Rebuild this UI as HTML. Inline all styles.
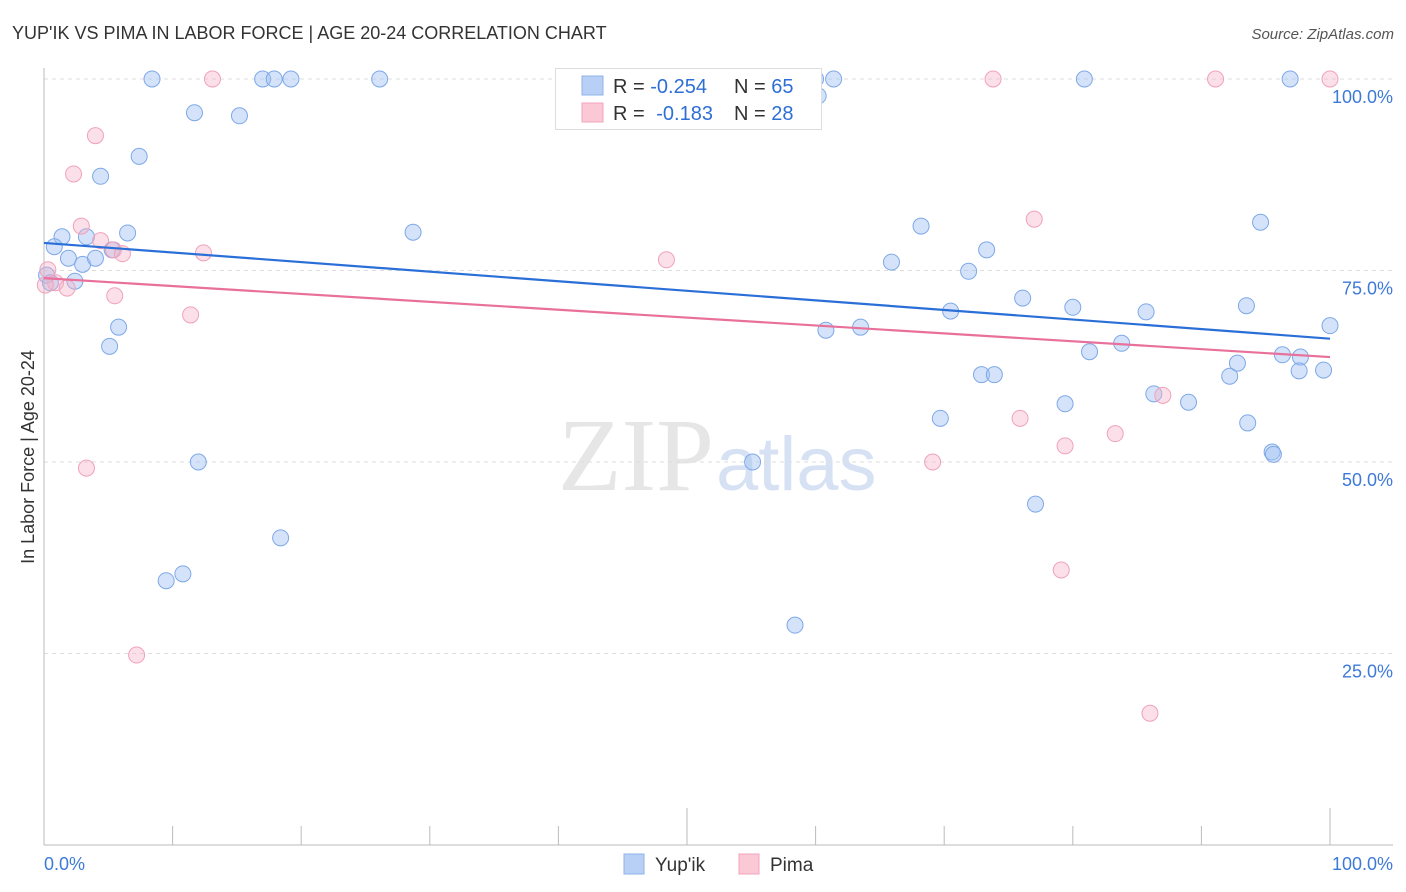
<!DOCTYPE html>
<html><head><meta charset="utf-8"><style>
body{margin:0;background:#fff;font-family:"Liberation Sans",sans-serif;}
#wrap{position:relative;width:1406px;height:892px;overflow:hidden;}
</style></head><body><div id="wrap">
<svg id="svg" width="1406" height="892" xmlns="http://www.w3.org/2000/svg">
<text x="12" y="39" font-size="18" fill="#333">YUP'IK VS PIMA IN LABOR FORCE | AGE 20-24 CORRELATION CHART</text>
<text x="1394" y="39" font-size="15" fill="#555" font-style="italic" text-anchor="end">Source: ZipAtlas.com</text>
<text x="714" y="490" font-size="104" fill="#e6e6e6" text-anchor="end" font-family="Liberation Serif">ZIP</text>
<text x="716" y="490" font-size="76" fill="#d6e2f3">atlas</text>
<text transform="translate(34,457) rotate(-90)" font-size="18" fill="#333" text-anchor="middle">In Labor Force | Age 20-24</text>
<g id="grid"></g><g id="pts"></g><g id="lines"></g>
<g>
<rect x="555.5" y="68.5" width="266" height="61" fill="#fff" stroke="#ddd"/>
<rect x="582" y="76" width="21" height="19" fill="#b8d0f5" stroke="#8fb2ea"/>
<rect x="582" y="103" width="21" height="19" fill="#fbc8d6" stroke="#f2a5bb"/>
<text x="613" y="93" font-size="20" fill="#333">R = <tspan fill="#2e6fd6">-0.254</tspan></text>
<text x="734" y="93" font-size="20" fill="#333">N = <tspan fill="#2e6fd6">65</tspan></text>
<text x="613" y="120" font-size="20" fill="#333">R = <tspan fill="#2e6fd6" dx="6">-0.183</tspan></text>
<text x="734" y="120" font-size="20" fill="#333">N = <tspan fill="#2e6fd6">28</tspan></text>
</g>
<g>
<rect x="624" y="854" width="20" height="20" fill="#b8d0f5" stroke="#8fb2ea"/>
<text x="655" y="871" font-size="19" fill="#333">Yup'ik</text>
<rect x="739" y="854" width="20" height="20" fill="#fbc8d6" stroke="#f2a5bb"/>
<text x="770" y="871" font-size="19" fill="#333">Pima</text>
</g>
</svg>
<script>
const blueX=[8.4,17.0,17.9,19.2,26.1,60.0,61.4,80.9,96.9,60.2,11.7,15.2,7.4,4.4,1.4,0.8,3.3,6.5,28.7,68.2,94.6,1.9,3.0,4.0,5.3,2.4,65.9,71.9,73.3,5.8,5.1,76.1,70.5,80.0,85.7,93.5,100,60.8,63.5,81.3,83.8,72.9,73.9,92.8,96.3,97.7,97.6,99.5,92.2,86.3,89.0,79.4,69.7,93.6,95.5,95.6,55.1,12.0,77.1,18.4,10.8,9.5,58.4,0.2,0.5];
const blueY=[100,100,100,100,100,100,100,100,100,97.8,95.6,95.2,89.9,87.3,79.4,78.1,79.4,79.9,80.0,80.8,81.3,76.6,75.8,76.6,77.7,73.6,76.1,74.9,77.7,67.6,65.1,71.4,69.7,70.2,69.6,70.4,67.8,67.2,67.6,64.4,65.5,61.4,61.4,62.9,64.0,63.7,61.9,62.0,61.2,58.9,57.8,57.6,55.7,55.1,51.3,51.0,50.0,50.0,44.5,40.1,35.4,34.5,28.7,74.4,73.4];
const pinkX=[13.1,73.8,91.1,100,4.0,2.3,2.9,4.4,5.4,6.1,12.4,48.4,77.0,5.5,11.4,0.9,1.8,0.3,0.1,87.0,75.9,79.4,83.3,69.1,3.3,79.1,7.2,86.0];
const pinkY=[100,100,100,100,92.6,87.6,80.8,78.9,77.7,77.2,77.3,76.4,81.7,71.7,69.2,73.4,72.7,75.1,73.1,58.7,55.7,52.1,53.7,50.0,49.2,35.9,24.8,17.2];
const blueTrend=[78.6,66.1];
const pinkTrend=[74.0,63.7];
const yTicks=[100,75,50,25];
const yTickLabels=["100.0%","75.0%","50.0%","25.0%"];
const xTicks=[0,10,20,30,40,50,60,70,80,90,100];
const NS="http://www.w3.org/2000/svg";
const sx=v=>44+v*12.86, sy=v=>845-v*7.66;
function mk(t,a,p){const e=document.createElementNS(NS,t);for(const k in a)e.setAttribute(k,a[k]);p.appendChild(e);return e;}
const g=document.getElementById('grid');
yTicks.forEach((t,i)=>{
 const l=mk('line',{x1:44,x2:1393,y1:sy(t),y2:sy(t),stroke:'#ddd','stroke-dasharray':'4,4'},g);
 
 
 const tx=mk('text',{x:1393,y:sy(t)+24,'font-size':18,fill:'#3d7ad8','text-anchor':'end'},g);tx.textContent=yTickLabels[i];
 
 
});
const ax=mk('line',{x1:44,x2:1393,y1:845,y2:845,stroke:'#bbb'},g);


const ay=mk('line',{x1:44,x2:44,y1:68,y2:845,stroke:'#bbb'},g);


xTicks.forEach(t=>{const l=mk('line',{x1:sx(t),x2:sx(t),y1:845,y2:t%50==0?808:826,stroke:'#bbb'},g);
 
 });
const xl=mk('text',{x:44,y:870,'font-size':18,fill:'#3d7ad8'},g);xl.textContent='0.0%';


const xr=mk('text',{x:1393,y:870,'font-size':18,fill:'#3d7ad8','text-anchor':'end'},g);xr.textContent='100.0%';


const p=document.getElementById('pts');
blueX.forEach((x,i)=>{const c=mk('circle',{cx:sx(x),cy:sy(blueY[i]),r:8,fill:'rgba(160,192,242,0.45)',stroke:'#7ea8e8','stroke-width':1},p);
 
 });
pinkX.forEach((x,i)=>{const c=mk('circle',{cx:sx(x),cy:sy(pinkY[i]),r:8,fill:'rgba(246,178,200,0.4)',stroke:'#f0a2ba','stroke-width':1},p);
 
 });
const L=document.getElementById('lines');
const bl=mk('line',{x1:sx(0),x2:sx(100),y1:sy(blueTrend[0]),y2:sy(blueTrend[1]),stroke:'#2a6fd8','stroke-width':2.2},L);


const pl=mk('line',{x1:sx(0),x2:sx(100),y1:sy(pinkTrend[0]),y2:sy(pinkTrend[1]),stroke:'#e8709a','stroke-width':2.2},L);


</script>
</div></body></html>
